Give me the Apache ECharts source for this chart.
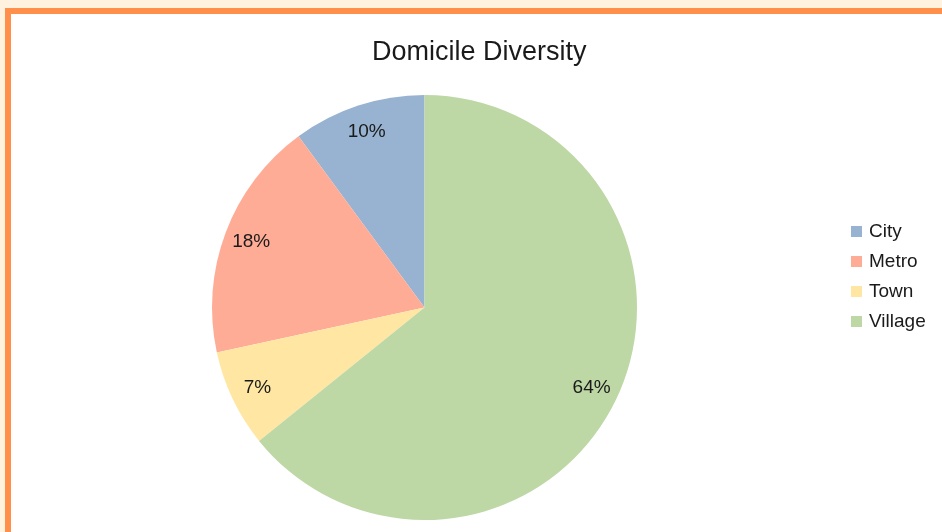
<!DOCTYPE html>
<html>
<head>
<meta charset="utf-8">
<script src="https://cdn.jsdelivr.net/npm/echarts@6/dist/echarts.min.js"></script>
<style>
	html, body { margin: 0; padding: 0; background: #fff3e0; overflow: hidden; }
	#frame { position: absolute; left: 5px; top: 8px; width: 960px; height: 560px; border: 6px solid #ff8f4b; background: #fff; }
	#main { position: absolute; left: 0; top: 0; width: 942px; height: 532px; }
</style>
</head>
<body>
<div id="frame"></div>
<div id="main"></div>
<script>
	// data
	const categories = ['City', 'Metro', 'Town', 'Village'];
	const shares = [10.1, 18.3, 7.4, 64.2];
	const colors = ['#97b3d1', '#ffac97', '#ffe7a3', '#bdd7a5'];

	const chart = echarts.init(document.getElementById('main'), null, { renderer: 'canvas' });

	const pieData = categories.map((name, i) => ({
		name: name,
		value: shares[i],
		itemStyle: { color: colors[i] }
	}));
	// same slices, transparent, only to carry the labels near the rim
	const labelData = categories.map((name, i) => ({ name: name, value: shares[i] }));

	const option = {
		backgroundColor: 'transparent',
		animation: false,
		title: {
			text: 'Domicile Diversity',
			left: 367,
			top: 34,
			textStyle: {
				fontFamily: 'Liberation Sans',
				fontSize: 27,
				fontWeight: 'normal',
				color: '#1a1a1a'
			}
		},
		legend: {
			orient: 'vertical',
			left: 851,
			top: 222,
			padding: 0,
			itemWidth: 11,
			itemHeight: 11,
			itemGap: 11,
			icon: 'rect',
			data: categories.map((name, i) => ({ name: name, itemStyle: { color: colors[i] } })),
			textStyle: {
				fontFamily: 'Liberation Sans',
				fontSize: 19,
				color: '#1a1a1a',
				padding: [0, 0, 0, 2]
			}
		},
		series: [
			{
				name: 'Domicile',
				type: 'pie',
				center: [424.5, 307.5],
				radius: [0, 212.5],
				startAngle: 90,
				clockwise: false,
				silent: true,
				label: { show: false },
				labelLine: { show: false },
				itemStyle: { borderWidth: 0 },
				data: pieData
			},
			{
				name: 'labels',
				type: 'pie',
				center: [424.5, 307.5],
				radius: [152, 212.5],
				startAngle: 90,
				clockwise: false,
				silent: true,
				itemStyle: { color: 'transparent', borderWidth: 0 },
				label: {
					show: true,
					position: 'inside',
					formatter (p) {
						return Math.round(p.percent) + '%';
					},
					fontFamily: 'Liberation Sans',
					fontSize: 19,
					color: '#1a1a1a'
				},
				labelLine: { show: false },
				data: labelData
			}
		]
	};

	chart.setOption(option);
</script>
</body>
</html>
